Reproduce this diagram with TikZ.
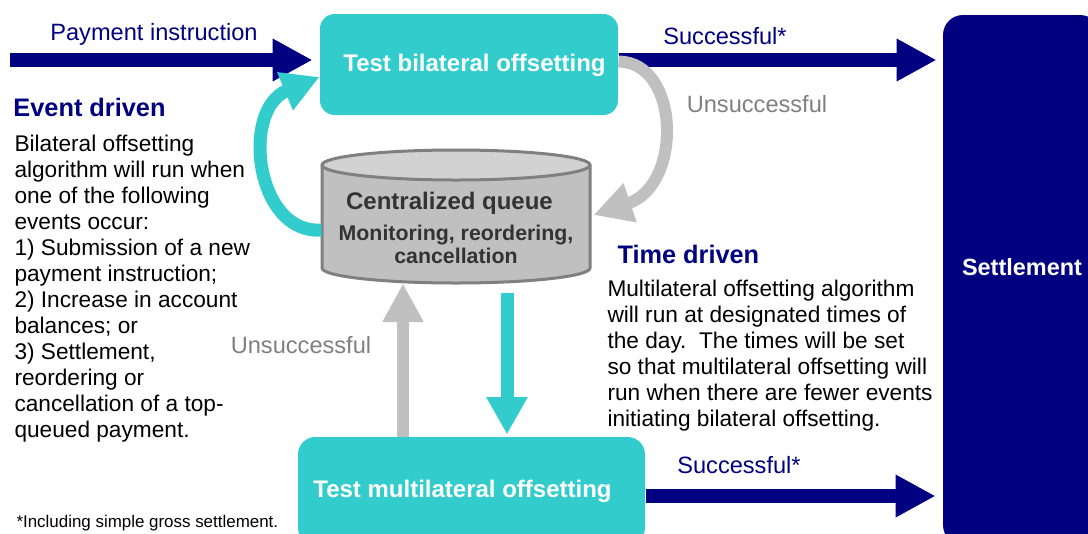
\documentclass[tikz,border=0pt]{standalone}
\usepackage{fontspec}
\setmainfont{Liberation Sans}
\usetikzlibrary{arrows.meta,calc}

\definecolor{navy}{RGB}{0,0,128}
\definecolor{aqua}{RGB}{51,204,204}
\definecolor{silver}{RGB}{192,192,192}
\definecolor{qtop}{RGB}{210,210,210}
\definecolor{qline}{RGB}{128,128,128}
\definecolor{qtext}{RGB}{51,51,51}

\tikzset{every picture/.style={line width=0.75pt}}
\tikzset{
  testbox/.style={fill=aqua, rounded corners=11pt, inner sep=0pt},
  boxtext/.style={text=white, font=\fontsize{18}{21}\selectfont\bfseries, inner sep=0pt},
  lbl/.style={font=\fontsize{17.7}{21}\selectfont, inner sep=0pt},
  head/.style={text=navy, font=\fontsize{19}{22}\selectfont\bfseries, inner sep=0pt, anchor=west},
  body/.style={font=\fontsize{17}{19.5}\selectfont, align=left, inner sep=0pt, anchor=north west},
  navyarrow/.style={draw=navy, line width=10.5pt, -{Triangle[length=30pt,width=30pt]}},
  aquaarrow/.style={draw=aqua, line width=9.75pt, -{Triangle[length=28pt,width=29pt]}},
  silverarrow/.style={draw=silver, line width=9pt, -{Triangle[length=29pt,width=29pt]}},
}

\begin{document}
\begin{tikzpicture}[x=0.75pt,y=0.75pt,yscale=-1,xscale=1]
\useasboundingbox (0,0) rectangle (1088,533);

%Shape: Rounded Rect [id:bilat]
\draw (469,64.5) node [testbox, minimum width=223.5pt, minimum height=75.75pt] (bilat) {};
%Shape: Rounded Rect [id:multi]
\draw (471.5,491) node [testbox, rounded corners=13pt, minimum width=260.25pt, minimum height=81pt] (multi) {};
%Shape: Rounded Rect [id:settle]
\draw (1021.5,280) node [fill=navy, rounded corners=15pt, minimum width=117.75pt, minimum height=397.5pt, inner sep=0pt] (settle) {};

%Shape: Can [id:queue]
\draw (456,216.5) node [minimum width=201pt, minimum height=99.75pt, inner sep=0pt] (queue) {};
\fill[silver] (322,165) -- (322,268) arc [start angle=180, end angle=0, x radius=134, y radius=15] -- (590,165) -- cycle;
\draw[qline, line width=2.25pt, fill=qtop] (456,165) ellipse [x radius=134, y radius=15];
\draw[qline, line width=2.25pt] (322,165) -- (322,268) arc [start angle=180, end angle=0, x radius=134, y radius=15] -- (590,165);

% Text Node
\draw (474.5,65.5) node [boxtext] (bilattxt) {Test bilateral offsetting};
% Text Node
\draw (462.5,491.5) node [boxtext] (multitxt) {Test multilateral offsetting};
% Text Node
\draw (1022,267) node [boxtext, font=\fontsize{17.6}{21}\selectfont\bfseries] (settletxt) {Settlement};
% Text Node
\draw (449.5,203.5) node [text=qtext, font=\fontsize{18}{21}\selectfont\bfseries, inner sep=0pt] (qtitle) {Centralized queue};
% Text Node
\draw (456,244.5) node [text=qtext, font=\fontsize{16}{17.25}\selectfont\bfseries, align=center, inner sep=0pt] (qsub) {Monitoring, reordering,\\cancellation};

%Straight Lines [id:pay]
\coordinate (pin) at (10,60);
\draw[navyarrow] (pin) -- ($(bilat.west |- pin)+(-7,0)$);
%Straight Lines [id:okbilat]
\draw[navyarrow] (bilat.east |- pin) -- ($(settle.west |- pin)+(-6,0)$);
%Straight Lines [id:okmulti]
\coordinate (pout) at (0,496);
\draw[navyarrow] (multi.east |- pout) -- ($(settle.west |- pout)+(-7,0)$);

%Curve Lines [id:failbilat]
\draw[silverarrow] ($(bilat.east)+(0,-3)$) .. controls (680,62) and (683,185) .. ($(queue.east)+(3,-1.5)$);
%Curve Lines [id:runbilat]
\draw[aquaarrow] ($(queue.west)+(0,13.5)$) .. controls (256,235) and (240,110) .. ($(bilat.west)+(0,12.5)$);

%Straight Lines [id:failmulti]
\coordinate (upx) at (403,0);
\draw[silverarrow] (multi.north -| upx) -- (queue.south -| upx);
%Straight Lines [id:runmulti]
\coordinate (dnx) at (507,0);
\draw[aquaarrow] ($(queue.south -| dnx)+(0,9)$) -- ($(multi.north -| dnx)+(0,-2)$);

% Text Node
\draw (154,34.5) node [lbl, text=navy] (paylbl) {Payment instruction};
% Text Node
\draw (725,36) node [lbl, text=navy] (oklbl) {Successful*};
% Text Node
\draw (739,465) node [lbl, text=navy] (oklbl2) {Successful*};
% Text Node
\draw (757,104) node [lbl, text=qline] (faillbl) {Unsuccessful};
% Text Node
\draw (301,345) node [lbl, text=qline] (faillbl2) {Unsuccessful};

% Text Node
\draw (13,107) node [head] (eventhd) {Event driven};
% Text Node
\draw (14,134.5) node [body] (eventtxt) {Bilateral offsetting\\algorithm will run when\\one of the following\\events occur:\\1) Submission of a new\\payment instruction;\\2) Increase in account\\balances; or\\3) Settlement,\\reordering or\\cancellation of a top-\\queued payment.};
% Text Node
\draw (617,254) node [head] (timehd) {Time driven};
% Text Node
\draw (607,279.5) node [body] (timetxt) {Multilateral offsetting algorithm\\will run at designated times of\\the day.\ \ The times will be set\\so that multilateral offsetting will\\run when there are fewer events\\initiating bilateral offsetting.};

% Text Node
\draw (16,523) node [anchor=west, inner sep=0pt, font=\fontsize{12.7}{15}\selectfont] (note) {*Including simple gross settlement.};

\end{tikzpicture}
\end{document}
